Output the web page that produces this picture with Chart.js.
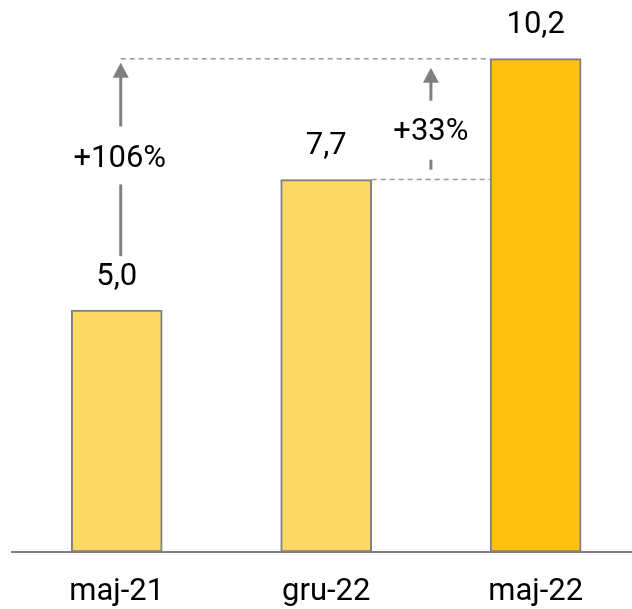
<!DOCTYPE html>
<html lang="pl">
<head>
    <meta charset="UTF-8">
    <title>maj-21 / gru-22 / maj-22</title>
    <script src="https://cdn.jsdelivr.net/npm/chart.js"></script>
    <style>
        html, body { margin: 0; padding: 0; background: #fff; }
        #wrap { width: 632px; height: 609px; }
    </style>
</head>
<body>
    <div id="wrap"><canvas id="barChart"></canvas></div>

    <script>
        const categories = ['maj-21', 'gru-22', 'maj-22'];
        const values = [5.0, 7.7, 10.2];
        const valueLabels = ['5,0', '7,7', '10,2'];
        const changeLabels = ['+106%', '+33%'];

        const FONT = 'Roboto, "DejaVu Sans Condensed", sans-serif';
        const lightYellow = '#FFD966';
        const darkYellow = '#FFC010';
        const gray = '#808080';

        function arrow(ctx, x, yFrom, yTo) {
            ctx.save();
            ctx.strokeStyle = gray;
            ctx.fillStyle = gray;
            ctx.lineWidth = 3;
            ctx.beginPath();
            ctx.moveTo(x, yFrom);
            ctx.lineTo(x, yTo + 12);
            ctx.stroke();
            ctx.beginPath();
            ctx.moveTo(x, yTo);
            ctx.lineTo(x - 8, yTo + 15);
            ctx.lineTo(x + 8, yTo + 15);
            ctx.closePath();
            ctx.fill();
            ctx.restore();
        }

        function dashed(ctx, x1, x2, y) {
            ctx.save();
            ctx.strokeStyle = '#9a9a9a';
            ctx.lineWidth = 1.5;
            ctx.setLineDash([5, 4]);
            ctx.beginPath();
            ctx.moveTo(x1, y);
            ctx.lineTo(x2, y);
            ctx.stroke();
            ctx.restore();
        }

        // labels, dashed guides and the growth arrows
        const annotations = {
            id: 'annotations',
            afterDatasetsDraw(chart) {
                const ctx = chart.ctx;
                const bars = chart.getDatasetMeta(0).data;
                const b1 = bars[0], b2 = bars[1], b3 = bars[2];

                ctx.save();
                ctx.font = '31px ' + FONT;
                ctx.fillStyle = '#000';
                ctx.textAlign = 'center';
                ctx.textBaseline = 'middle';
                bars.forEach((b, i) => {
                    ctx.fillText(valueLabels[i], b.x, b.y - 33);
                });
                ctx.restore();

                const x1 = b1.x + 4;
                const b3left = b3.x - b3.width / 2;
                const b2right = b2.x + b2.width / 2;
                dashed(ctx, x1, b3left, b3.y);
                dashed(ctx, b2right, b3left, b2.y);

                // first arrow: from above the 5,0 label to the top guide
                const bottom1 = b1.y - 54;
                const top1 = b3.y + 4;
                const mid1 = (bottom1 + top1) / 2;
                arrow(ctx, x1, bottom1, top1);
                ctx.save();
                ctx.fillStyle = '#fff';
                ctx.fillRect(x1 - 10, mid1 - 33, 20, 58);
                ctx.restore();

                // second arrow: between bars 2 and 3
                const x2 = (b2right + b3left) / 2;
                const bottom2 = b2.y - 10;
                const top2 = b3.y + 9;
                arrow(ctx, x2, bottom2, top2);
                const mid2 = b3.y + 74;
                ctx.save();
                ctx.fillStyle = '#fff';
                ctx.fillRect(x2 - 10, mid2 - 32, 20, 59);
                ctx.restore();

                ctx.save();
                ctx.font = '31px ' + FONT;
                ctx.fillStyle = '#000';
                ctx.textAlign = 'center';
                ctx.textBaseline = 'middle';
                ctx.fillText(changeLabels[0], x1 - 1, mid1);
                ctx.fillText(changeLabels[1], x2, mid2);
                ctx.restore();
            }
        };

        const ctx = document.getElementById('barChart').getContext('2d');
        new Chart(ctx, {
            type: 'bar',
            data: {
                datasets: [{
                    data: values.map((v, i) => ({ x: i, y: v })),
                    backgroundColor: [lightYellow, lightYellow, darkYellow],
                    borderColor: gray,
                    borderWidth: 2,
                    borderSkipped: false,
                    barThickness: 91
                }]
            },
            options: {
                responsive: true,
                maintainAspectRatio: false,
                animation: false,
                layout: {
                    padding: { left: 12, right: 0, top: 20, bottom: 0 }
                },
                plugins: {
                    legend: { display: false },
                    tooltip: { enabled: false }
                },
                scales: {
                    x: {
                        type: 'linear',
                        min: -0.5,
                        max: 2.46,
                        offset: false,
                        afterFit(scale) { scale.height = 57; },
                        afterBuildTicks(scale) {
                            scale.ticks = categories.map((c, i) => ({ value: i }));
                        },
                        grid: { display: false },
                        border: { display: true, color: gray, width: 2 },
                        ticks: {
                            color: '#000',
                            padding: 14,
                            font: { family: FONT, size: 31 },
                            callback: (v) => categories[v]
                        }
                    },
                    y: {
                        display: false,
                        min: 0,
                        max: 11
                    }
                }
            },
            plugins: [annotations]
        });
    </script>
</body>
</html>
